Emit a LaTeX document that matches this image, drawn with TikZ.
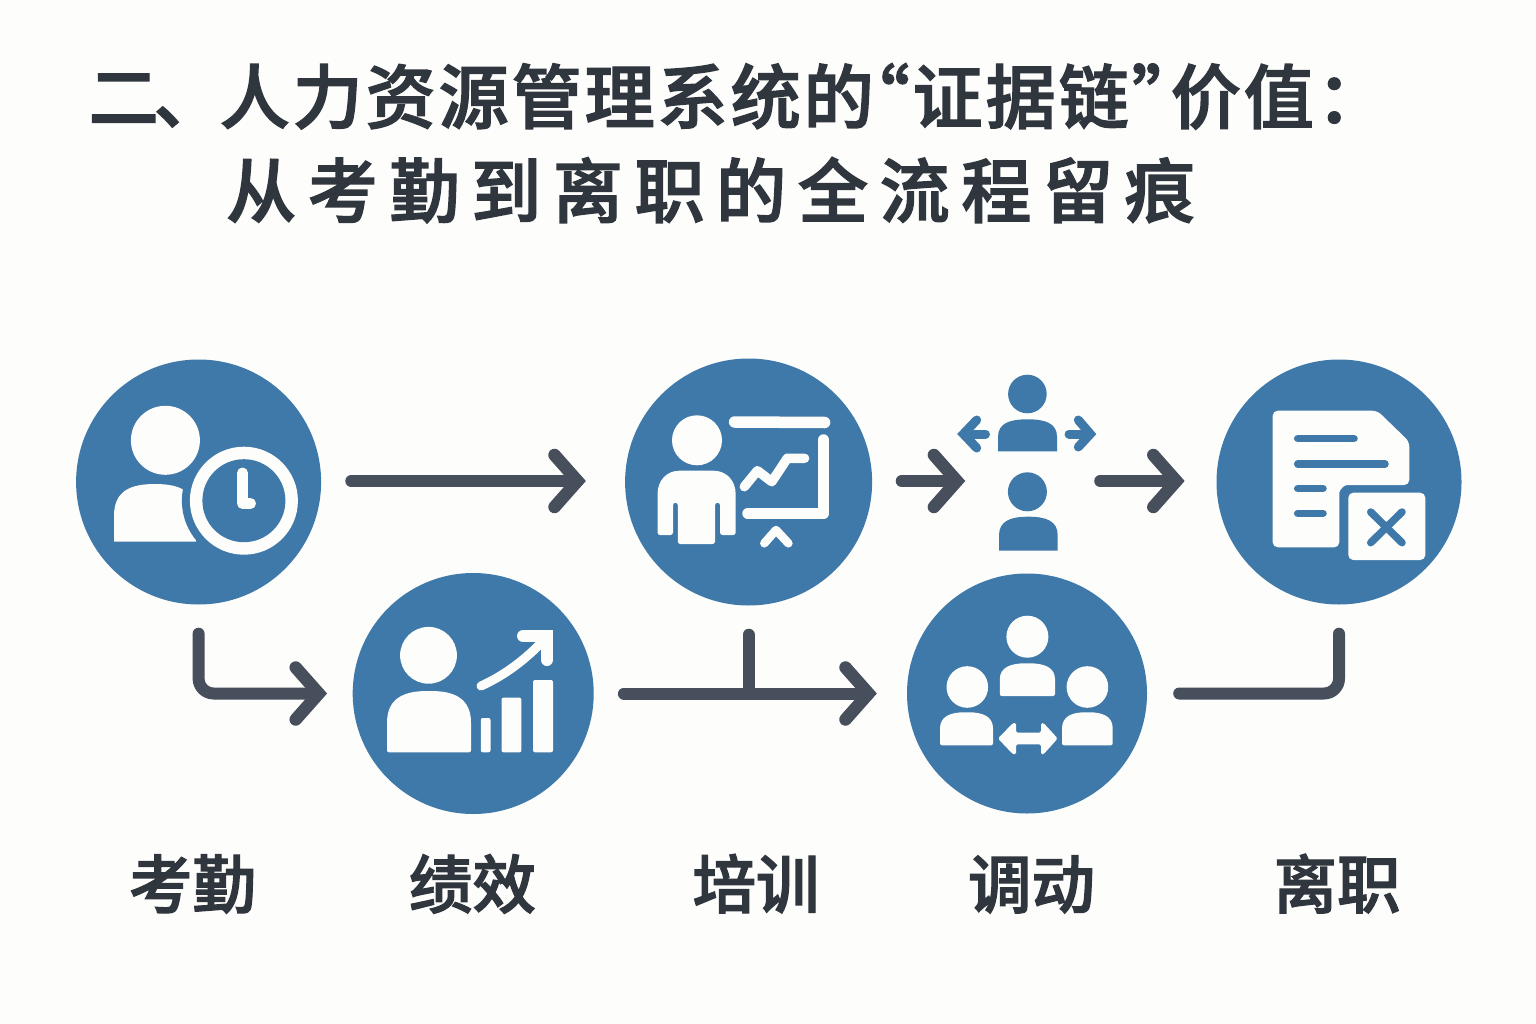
\documentclass[tikz,border=0pt]{standalone}
\usepackage{fontspec}
\usetikzlibrary{arrows.meta}
\newfontfamily\cjk{Noto Sans CJK SC Medium}[FakeBold=2]
\definecolor{paper}{HTML}{FDFDFB}
\definecolor{disc}{HTML}{3E79A9}
\definecolor{wire}{HTML}{474F5C}
\definecolor{ink}{HTML}{30363E}
\makeatletter
\pgfdeclarearrow{
  name=Chev,
  setup code={
    \pgfarrowssettipend{8.3pt}
    \pgfarrowssetlineend{0pt}
    \pgfarrowssetbackend{-23pt}
    \pgfarrowssetvisualbackend{-23pt}
  },
  drawing code={
    \pgfsetdash{}{0pt}
    \pgfsetlinewidth{12.5pt}
    \pgfsetroundcap
    \pgfsetmiterjoin
    \pgfpathmoveto{\pgfpoint{-23pt}{26pt}}
    \pgfpathlineto{\pgfpointorigin}
    \pgfpathlineto{\pgfpoint{-23pt}{-26pt}}
    \pgfusepathqstroke
  },
}
\makeatother
\newcommand\dome[5]{%
  \pgfmathsetmacro\dw{#3-#2}\pgfmathsetmacro\dh{#5-#4}\pgfmathsetmacro\dm{(#2+#3)/2}%
  \fill[#1] (#2,#5) -- (#2,{#4+.55*\dh}) .. controls (#2,{#4+.12*\dh}) and ({\dm-.3*\dw},#4) .. (\dm,#4)
    .. controls ({\dm+.3*\dw},#4) and (#3,{#4+.12*\dh}) .. (#3,{#4+.55*\dh}) -- (#3,#5) -- cycle;%
}
\tikzset{
  disk/.style={circle,fill=disc,draw=none,inner sep=0pt,minimum size=#1},
  conn/.style={draw=wire,line width=12pt,line cap=round,line join=round},
  wht/.style={fill=paper,draw=none},
  wline/.style={draw=paper,line cap=round,line join=round,line width=#1},
  bline/.style={draw=disc,line cap=round,line join=round,line width=#1},
  title/.style={font=\cjk\fontsize{70}{70}\selectfont,text=ink,anchor=base west,inner sep=0pt},
  caption/.style={font=\cjk\fontsize{63.5}{63.5}\selectfont,text=ink,anchor=base,inner sep=0pt},
}
\begin{document}
\begin{tikzpicture}[x=1pt,y=-1pt]
\useasboundingbox (0,0) rectangle (1536,1024);
\fill[paper] (0,0) rectangle (1536,1024);

% title
\node[title] (t1) at (88.5,123) {\addfontfeature{LetterSpace=4.3}二\kern-5pt、\kern-4pt人力资源管理系统的\kern-34pt“证据链”\kern-31pt价值：};
\node[title] (t2) at (226,217) {\addfontfeature{LetterSpace=16.7}从考勤到离职的全流程留痕};

% discs
\node[disk=245pt] (kq) at (198.6,482) {};
\node[disk=241pt] (jx) at (473.2,693.5) {};
\node[disk=247pt] (px) at (748.6,482) {};
\node[disk=240pt] (dq) at (1027,693.5) {};
\node[disk=245pt] (lz) at (1339,482) {};
\node[minimum width=120pt,minimum height=212pt,inner sep=0pt] (dd) at (1026.8,482) {};
\coordinate (tj) at (748.6,693.5);

% connectors
\draw[conn,-{Chev},shorten <=30pt,shorten >=39.1pt] ([yshift=1pt]kq.east) -- ([yshift=1pt]px.west);
\draw[conn,rounded corners=15pt,-{Chev},shorten <=29pt,shorten >=25.5pt] (kq.south) |- (jx.west);
\draw[conn,-{Chev},shorten <=30pt,shorten >=30pt] (jx.east) -- (dq.west);
\draw[conn,shorten <=29pt] (px.south) -- (tj);
\draw[conn,-{Chev},shorten <=29.4pt,shorten >=1.4pt] ([yshift=1pt]px.east) -- ([yshift=1pt]dd.west);
\draw[conn,-{Chev},shorten <=13.2pt,shorten >=31.7pt] ([yshift=1pt]dd.east) -- ([yshift=1pt]lz.west);
\draw[conn,rounded corners=15pt,shorten <=32pt,shorten >=29pt] (dq.east) -| (lz.south);

% icon: attendance
\fill[wht] (165.4,440.3) circle[radius=34.5];
\dome{wht}{114}{196}{484}{541.7}
\fill[disc] (243.9,500.7) circle[radius=62];
\fill[wht] (243.9,500.7) circle[radius=54];
\fill[disc] (243.9,500.7) circle[radius=41.5];
\draw[wline=11pt] (242.5,473) -- (242.5,503.5) -- (250.5,503.5);

% icon: performance
\fill[wht] (428.5,655.3) circle[radius=28.4];
\dome{wht,rounded corners=2pt}{387}{471}{691}{752.3}
\fill[wht,rounded corners=2pt] (480.8,718) rectangle (490.5,752.3);
\fill[wht,rounded corners=2pt] (501.5,697.7) rectangle (521.4,752.3);
\fill[wht,rounded corners=2pt] (533,680) rectangle (553,752.3);
\draw[wline=9pt] (481,686) .. controls (505,675) and (525,660) .. (545,639);
\draw[wline=12pt,line join=miter] (523,636) -- (547,636) -- (547,660);

% icon: training
\fill[wht] (697,440.3) circle[radius=25];
\fill[wht,rounded corners=2.5pt] (657.5,535) -- (657.5,497) .. controls (657.5,480) and (667,470.7) .. (682,470.7)
  -- (711,470.7) .. controls (726,470.7) and (735.7,480) .. (735.7,497) -- (735.7,535) -- (720,535) -- (720,502.7)
  -- (715,502.7) -- (715,544) -- (677.8,544) -- (677.8,502.7) -- (673,502.7) -- (673,535) -- cycle;
\draw[wline=11.5pt] (734.6,422) -- (824.6,422.5);
\draw[wline=11.5pt] (823.5,440) -- (823.5,513.5) -- (748,513.5);
\draw[wline=9.5pt] (744.3,486.7) -- (757.4,470.7) -- (771.8,481.7) -- (787.3,458.3) -- (804.6,458.3);
\draw[wline=8.5pt] (764.3,543.3) -- (776,530) -- (788.4,543.3);

% icon: transfer (free-standing)
\fill[disc] (1027.4,394) circle[radius=19.3];
\dome{disc}{998}{1057}{419.3}{451.3}
\fill[disc] (1027.4,491.8) circle[radius=19.5];
\dome{disc}{999}{1057.7}{516.7}{550.7}
\draw[bline=9pt] (985.5,434) -- (966,434);
\draw[bline=9pt,line join=miter] (976.7,420) -- (963.4,434) -- (976.7,448);
\draw[bline=9pt] (1069,434) -- (1088,434);
\draw[bline=9pt,line join=miter] (1078.3,420) -- (1090.3,434) -- (1078.3,447);

% icon: group move
\fill[wht] (1027.4,636.7) circle[radius=21];
\dome{wht,rounded corners=2pt}{999.8}{1055}{663.3}{696}
\fill[wht] (967.3,687) circle[radius=20.8];
\dome{wht,rounded corners=2pt}{940}{993}{712.3}{745.3}
\fill[wht] (1087.4,687) circle[radius=20.8];
\dome{wht,rounded corners=2pt}{1062}{1112.7}{712.3}{745.3}
\fill[wht,rounded corners=1.5pt] (998,738.5) -- (1013,723) -- (1016,723) -- (1016,732.7) -- (1041,732.7) -- (1041,723)
  -- (1043.5,723) -- (1057.7,738.5) -- (1043.5,754.3) -- (1041,754.3) -- (1041,744.3) -- (1016,744.3) -- (1016,754.3) -- (1013,754.3) -- cycle;

% icon: leaving
\fill[wht,rounded corners=5pt] (1272.7,410.7) -- (1377.3,410.7) -- (1409.3,441.7) -- (1409.3,485) -- (1352,485)
  .. controls (1344,485) and (1339.3,490) .. (1339.3,498) -- (1339.3,547.3) -- (1272.7,547.3) -- cycle;
\draw[bline=7.5pt] (1297.7,438.7) -- (1354,438.7);
\draw[bline=7.5pt] (1297.7,464) -- (1385,464);
\draw[bline=7.5pt] (1297.7,488.7) -- (1323,488.7);
\draw[bline=7.5pt] (1297.7,513.3) -- (1323,513.3);
\fill[wht,rounded corners=5pt] (1348.3,492.7) rectangle (1425.3,560);
\draw[bline=7.5pt] (1370.7,512) -- (1402,542.7);
\draw[bline=7.5pt] (1402,512) -- (1370.7,542.7);

% captions
\node[caption] (c1) at (192.5,908) {考勤};
\node[caption] (c2) at (472.5,908) {绩效};
\node[caption] (c3) at (756,908) {培训};
\node[caption] (c4) at (1031.5,908) {调动};
\node[caption] (c5) at (1337,908) {离职};
\end{tikzpicture}
\end{document}
